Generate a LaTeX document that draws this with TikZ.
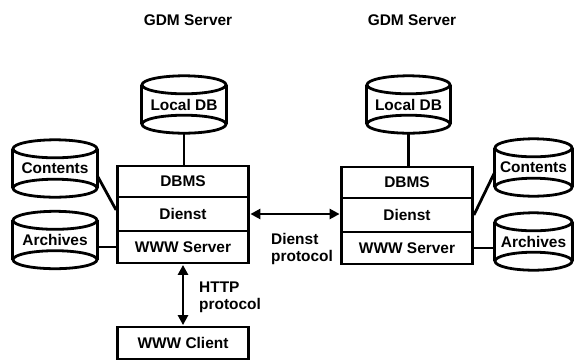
\documentclass[tikz,border=0pt]{standalone}
\usepackage{fontspec}
\setmainfont{Liberation Sans}
\usetikzlibrary{calc,arrows.meta}
\tikzset{
  lbl/.style={font=\fontsize{15.5}{17.5}\selectfont\bfseries, inner sep=0pt},
  rowbox/.style={draw, rectangle, line width=2.8bp, minimum width=131bp, inner sep=0pt, lbl},
  dbnode/.style={rectangle, minimum height=57bp, inner sep=0pt, lbl},
  conn/.style={line width=2.8bp},
  biarrow/.style={line width=2.8bp, {Triangle[length=10bp,width=10bp]}-{Triangle[length=10bp,width=10bp]}, shorten <=0.5bp, shorten >=0.5bp}
}
\newcommand\dbcyl[5]{%
  \node[dbnode, minimum width=#4bp] (#1) at (#2,#3) {#5};
  \draw[conn] ($(#1.north)+(0,9)$) ellipse [x radius=#4/2, y radius=9];
  \draw[conn] ($(#1.south)+(0,-9)$) ellipse [x radius=#4/2, y radius=9];
  \draw[conn] ($(#1.north west)+(0,9)$) -- ($(#1.south west)+(0,-9)$);
  \draw[conn] ($(#1.north east)+(0,9)$) -- ($(#1.south east)+(0,-9)$);
}
\begin{document}
\begin{tikzpicture}[x=1bp,y=-1bp]
\useasboundingbox (0,0) rectangle (577,360);
% titles
\node[lbl] (t1) at (188,20) {GDM Server};
\node[lbl] (t2) at (412,20) {GDM Server};
% left server
\node[rowbox, minimum height=31bp] (lDBMS) at (183,181.5) {DBMS};
\node[rowbox, minimum height=34bp] (lDienst) at (183,214) {Dienst};
\node[rowbox, minimum height=32bp] (lWWW) at (183,247) {WWW Server};
% right server
\node[rowbox, minimum height=31bp] (rDBMS) at (407,182.5) {DBMS};
\node[rowbox, minimum height=34bp] (rDienst) at (407,215) {Dienst};
\node[rowbox, minimum height=32bp] (rWWW) at (407,248) {WWW Server};
% client
\node[rowbox, minimum height=32bp] (client) at (183,343) {WWW Client};
% databases
\dbcyl{lLocal}{184}{104.5}{84}{Local DB}
\dbcyl{rLocal}{408.5}{104.5}{83}{Local DB}
\dbcyl{lCont}{55}{168.5}{84}{Contents}
\dbcyl{lArch}{55}{240}{84}{Archives}
\dbcyl{rCont}{533.5}{167.5}{77}{Contents}
\dbcyl{rArch}{533.5}{241.5}{77}{Archives}
% connections
\draw[conn] ($(lLocal.south)+(0,-1)$) -- (lLocal.south |- lDBMS.north);
\draw[conn] ($(rLocal.south)+(0,-1)$) -- (rLocal.south |- rDBMS.north);
\draw[conn] ([yshift=-7bp]lCont.east) -- ([yshift=4bp]lDienst.west);
\draw[conn] (lWWW.west) -- (lWWW.west -| lArch.east);
\draw[conn] ([yshift=-4.5bp]rCont.west) -- (rDienst.east);
\draw[conn] (rWWW.east) -- (rWWW.east -| rArch.west);
\draw[biarrow] (lDienst.east) -- (rDienst.west |- lDienst.east);
\draw[biarrow] (lWWW.south) -- (client.north);
% labels
\node[lbl, anchor=west, align=left] (dp) at (271,249) {Dienst\\protocol};
\node[lbl, anchor=west, align=left] (hp) at (199,297) {HTTP\\protocol};
\end{tikzpicture}
\end{document}
